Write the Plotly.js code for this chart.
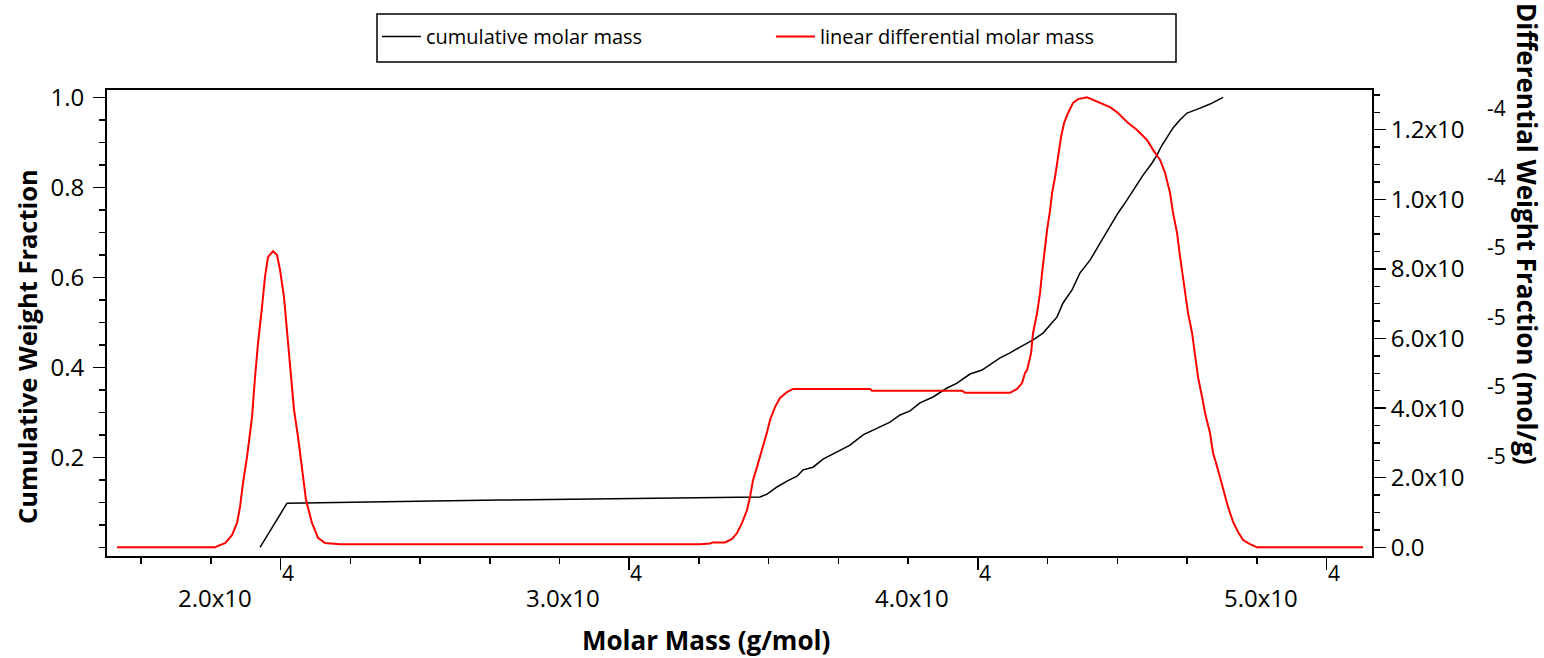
<!DOCTYPE html>
<html>
<head>
<meta charset="utf-8">
<script src="https://cdn.plot.ly/plotly-3.0.1.min.js"></script>
<style>html,body{margin:0;padding:0;background:#fff;}#chart{width:1544px;height:658px;}</style>
</head>
<body>
<div id="chart"></div>
<script>
// Cumulative molar mass (black, left axis)
const cumMass = [19412, 20186, 26295, 32030, 33751, 33952, 34238, 34525, 34812, 34984, 35271, 35558, 35959, 36332, 36705, 37106, 37479, 37766, 38053, 38339, 38712, 39114, 39401, 39773, 40117, 40634, 40920, 41207, 41580, 41867, 42068, 42268, 42440, 42699, 42928, 43215, 43502, 43788, 44018, 44276, 44505, 44735, 44993, 45136, 45280, 45423, 45595, 45796, 45997, 46369, 46656, 47029];
const cumFrac = [0.0, 0.098, 0.105, 0.111, 0.112, 0.118, 0.134, 0.147, 0.158, 0.172, 0.178, 0.196, 0.212, 0.227, 0.250, 0.265, 0.278, 0.294, 0.303, 0.321, 0.334, 0.354, 0.365, 0.385, 0.394, 0.421, 0.432, 0.445, 0.461, 0.476, 0.494, 0.512, 0.543, 0.572, 0.610, 0.638, 0.676, 0.712, 0.743, 0.772, 0.801, 0.827, 0.854, 0.872, 0.894, 0.912, 0.932, 0.950, 0.965, 0.976, 0.985, 1.0];

// Linear differential molar mass (red, right axis), values in units of 1e-5 mol/g
const diffMass = [15311, 18122, 18208, 18408, 18609, 18753, 18839, 18925, 19039, 19183, 19269, 19355, 19469, 19555, 19641, 19785, 19900, 19986, 20100, 20186, 20301, 20387, 20502, 20617, 20731, 20903, 21075, 21276, 21706, 32030, 32317, 32403, 32747, 32948, 33091, 33235, 33378, 33464, 33550, 33665, 33751, 33837, 33952, 34038, 34181, 34324, 34525, 34697, 36906, 36963, 39544, 39630, 40920, 41121, 41265, 41351, 41408, 41523, 41580, 41695, 41781, 41838, 41896, 41982, 42068, 42125, 42211, 42297, 42383, 42469, 42584, 42727, 42871, 43129, 43273, 43502, 43788, 44018, 44276, 44563, 44850, 45022, 45223, 45366, 45509, 45595, 45710, 45796, 45882, 45968, 46025, 46140, 46226, 46312, 46427, 46513, 46656, 46742, 46885, 47029, 47172, 47316, 47459, 47603, 47803, 48004, 51044];
const diffE5 = [0, 0, 0.04, 0.12, 0.35, 0.70, 1.16, 1.85, 2.59, 3.74, 4.89, 5.87, 6.90, 7.77, 8.34, 8.51, 8.40, 7.97, 7.19, 6.24, 5.01, 3.95, 3.17, 2.22, 1.36, 0.70, 0.27, 0.12, 0.09, 0.09, 0.11, 0.14, 0.14, 0.24, 0.41, 0.70, 1.07, 1.45, 1.93, 2.31, 2.59, 2.88, 3.31, 3.66, 4.03, 4.29, 4.46, 4.55, 4.55, 4.50, 4.50, 4.44, 4.44, 4.55, 4.72, 5.01, 5.09, 5.58, 6.16, 6.73, 7.31, 7.88, 8.46, 9.12, 9.69, 10.18, 10.64, 11.22, 11.79, 12.19, 12.48, 12.77, 12.88, 12.93, 12.87, 12.77, 12.65, 12.48, 12.22, 11.99, 11.70, 11.42, 11.13, 10.76, 10.18, 9.61, 9.03, 8.35, 7.68, 7.11, 6.73, 6.16, 5.47, 4.89, 4.32, 3.86, 3.28, 2.71, 2.22, 1.65, 1.16, 0.73, 0.44, 0.21, 0.09, 0, 0];

// Tick labels
const xTickVals = [20000, 30000, 40000, 50000];
const xTickMant = ["2.0x10", "3.0x10", "4.0x10", "5.0x10"];
const xTickExp = ["4", "4", "4", "4"];
const yTickVals = [0.2, 0.4, 0.6, 0.8, 1.0];
const yTickText = ["0.2", "0.4", "0.6", "0.8", "1.0"];
const y2TickVals = [0, 2e-5, 4e-5, 6e-5, 8e-5, 1.0e-4, 1.2e-4];
const y2TickText = ["0.0", "2.0x10", "4.0x10", "6.0x10", "8.0x10", "1.0x10", "1.2x10"];
const y2TickExp = ["", "-5", "-5", "-5", "-5", "-4", "-4"];

const seriesNames = ["cumulative molar mass", "linear differential molar mass"];
const titles = {x: "Molar Mass (g/mol)", y: "Cumulative Weight Fraction", y2: "Differential Weight Fraction (mol/g)"};

const FONT = "Open Sans, Noto Sans, sans-serif";

const traces = [
  {x: cumMass, y: cumFrac, name: seriesNames[0], type: "scatter", mode: "lines",
   line: {color: "#000000", width: 1.5}, yaxis: "y"},
  {x: diffMass, y: diffE5.map(v => v * 1e-5), name: seriesNames[1], type: "scatter", mode: "lines",
   line: {color: "#ff0000", width: 2}, yaxis: "y2"}
];

const annotations = [];
xTickVals.forEach((v, i) => {
  annotations.push({x: v, xref: "x", y: 0, yref: "paper", text: xTickMant[i], showarrow: false,
    xanchor: "center", yanchor: "middle", xshift: -66, yshift: -41, font: {family: FONT, size: 24, color: "#000"}});
  annotations.push({x: v, xref: "x", y: 0, yref: "paper", text: xTickExp[i], showarrow: false,
    xanchor: "center", yanchor: "middle", xshift: 7, yshift: -17, font: {family: FONT, size: 21, color: "#000"}});
});
y2TickVals.forEach((v, i) => {
  if (!y2TickExp[i]) return;
  annotations.push({x: 1, xref: "paper", y: v, yref: "y2", text: y2TickExp[i], showarrow: false,
    xanchor: "center", yanchor: "middle", xshift: 124, yshift: 22, font: {family: FONT, size: 21, color: "#000"}});
});
annotations.push({x: 0.4735, xref: "paper", y: 0, yref: "paper", text: "<b>" + titles.x + "</b>", showarrow: false,
  xanchor: "center", yanchor: "middle", yshift: -84, font: {family: FONT, size: 26, color: "#000"}});
annotations.push({x: 0, xref: "paper", y: 0.4485, yref: "paper", text: "<b>" + titles.y + "</b>", showarrow: false,
  xanchor: "center", yanchor: "middle", xshift: -80, textangle: -90, font: {family: FONT, size: 25.5, color: "#000"}});
annotations.push({x: 1, xref: "paper", y: 0.691, yref: "paper", text: "<b>" + titles.y2 + "</b>", showarrow: false,
  xanchor: "center", yanchor: "middle", xshift: 155, textangle: 90, font: {family: FONT, size: 26, color: "#000"}});

// Legend frame (pixel box converted to paper units)
const plotL = 107, plotW = 1265, plotB = 556, plotH = 466;
const shapes = [{type: "rect", xref: "paper", yref: "paper", layer: "above",
  x0: (377 - plotL) / plotW, x1: (1176 - plotL) / plotW,
  y0: (plotB - 62) / plotH, y1: (plotB - 14) / plotH,
  line: {color: "#000", width: 1.5}, fillcolor: "rgba(0,0,0,0)"}];

const layout = {
  width: 1544, height: 658,
  margin: {l: 107, r: 172, t: 90, b: 102, pad: 0},
  paper_bgcolor: "#ffffff", plot_bgcolor: "#ffffff",
  font: {family: FONT, size: 24, color: "#000"},
  showlegend: true,
  legend: {orientation: "h", x: 0.2134, xanchor: "left", y: 1.1567, yanchor: "top",
    borderwidth: 0, bgcolor: "rgba(0,0,0,0)",
    font: {family: FONT, size: 20, color: "#000"},
    entrywidth: 340, entrywidthmode: "pixels", itemwidth: 39, traceorder: "normal"},
  xaxis: {range: [15024, 51300], showgrid: false, zeroline: false,
    showline: true, linecolor: "#000", linewidth: 2, mirror: true,
    tickmode: "array", tickvals: xTickVals, ticks: "outside", ticklen: 12, tickwidth: 1.5, tickcolor: "#000",
    showticklabels: false,
    minor: {dtick: 2000, tick0: 0, ticks: "outside", ticklen: 6, tickwidth: 1.5, tickcolor: "#000", showgrid: false}},
  yaxis: {range: [-0.01933, 1.01622], showgrid: false, zeroline: false,
    showline: true, linecolor: "#000", linewidth: 2, mirror: true,
    tickmode: "array", tickvals: yTickVals, ticktext: yTickText,
    ticks: "outside", ticklen: 12, tickwidth: 1.5, tickcolor: "#000", ticklabelstandoff: 4,
    tickfont: {family: FONT, size: 24, color: "#000"},
    minor: {dtick: 0.05, tick0: 0, ticks: "outside", ticklen: 6, tickwidth: 1.5, tickcolor: "#000", showgrid: false}},
  yaxis2: {overlaying: "y", side: "right", range: [-0.25e-5, 13.141e-5], showgrid: false, zeroline: false,
    showline: true, linecolor: "#000", linewidth: 2,
    tickmode: "array", tickvals: y2TickVals, ticktext: y2TickText,
    ticks: "outside", ticklen: 12, tickwidth: 1.5, tickcolor: "#000",
    tickfont: {family: FONT, size: 24, color: "#000"},
    minor: {dtick: 5e-6, tick0: 0, ticks: "outside", ticklen: 6, tickwidth: 1.5, tickcolor: "#000", showgrid: false}},
  shapes: shapes,
  annotations: annotations
};

Plotly.newPlot("chart", traces, layout, {displayModeBar: false, staticPlot: true});
</script>
</body>
</html>
